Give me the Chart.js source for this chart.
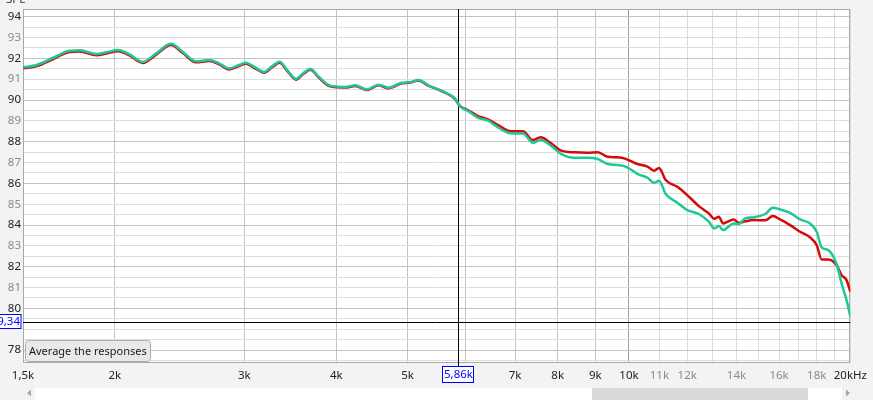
<!DOCTYPE html>
<html><head><meta charset="utf-8">
<script src="https://cdn.jsdelivr.net/npm/chart.js@4/dist/chart.umd.min.js"></script>
<style>html,body{margin:0;padding:0;background:#f3f3f3;}canvas{display:block;}</style>
</head><body>
<canvas id="c" width="873" height="400"></canvas>
<script>
// Frequencies (Hz)
const freqs = [1500,1566,1649,1736,1792,1887,1947,2019,2094,2182,2276,2384,2472,2578,2687,2772,2860,2950,3013,3092,3190,3273,3350,3430,3528,3613,3689,3786,3906,4030,4115,4245,4402,4565,4710,4909,5039,5171,5335,5504,5678,5798,5889,6044,6235,6433,6637,6847,6991,7175,7402,7582,7837,8085,8430,8787,9066,9353,9649,9853,10165,10270,10596,10819,10989,11218,11635,12000,12445,12839,13065,13246,13424,13880,14098,14391,14773,15317,15689,16050,16559,17084,17624,17996,18279,18664,19153,19455,19761,20000];
// Teal response (dB SPL)
const tealSeries = [91.57,91.68,92.03,92.37,92.39,92.21,92.29,92.40,92.19,91.83,92.24,92.70,92.32,91.86,91.92,91.76,91.52,91.68,91.79,91.60,91.35,91.63,91.84,91.44,91.02,91.31,91.49,91.12,90.72,90.64,90.63,90.71,90.51,90.74,90.59,90.83,90.86,90.96,90.71,90.51,90.29,90.08,89.71,89.47,89.15,89.01,88.69,88.43,88.40,88.40,87.95,88.08,87.81,87.41,87.23,87.23,87.17,86.93,86.88,86.83,86.56,86.45,86.27,86.03,86.13,85.49,85.07,84.72,84.53,84.16,83.84,83.95,83.76,84.08,84.05,84.32,84.37,84.53,84.83,84.75,84.59,84.27,84.08,83.68,82.93,82.80,82.13,81.20,80.40,79.60];
// Red response (dB SPL)
const redSeries = [91.52,91.63,91.97,92.31,92.33,92.15,92.23,92.34,92.14,91.78,92.18,92.64,92.27,91.81,91.87,91.71,91.47,91.63,91.74,91.55,91.31,91.58,91.79,91.40,90.98,91.27,91.45,91.08,90.68,90.61,90.60,90.68,90.48,90.71,90.56,90.80,90.84,90.94,90.69,90.50,90.28,90.06,89.72,89.51,89.23,89.07,88.80,88.53,88.50,88.50,88.08,88.21,87.92,87.57,87.49,87.47,87.50,87.28,87.25,87.20,86.99,86.93,86.80,86.61,86.74,86.16,85.84,85.44,84.91,84.56,84.30,84.40,84.08,84.27,84.11,84.18,84.24,84.23,84.43,84.27,84.00,83.68,83.41,83.04,82.35,82.35,82.08,81.60,81.36,80.80];

const xTickValues = [1500,2000,3000,4000,5000,6000,7000,8000,9000,10000,11000,12000,13000,14000,15000,16000,17000,18000,19000,20000];
const xTickLabels = ['1,5k','2k','3k','4k','5k','','7k','8k','9k','10k','11k','12k','','14k','','16k','','18k','','20kHz'];
const xMutedLabels = ['11k','12k','14k','16k','18k'];
const yLabelValues = [78,80,81,82,83,84,85,86,87,88,89,90,91,92,93,94];
const cursorFreq = 5860, cursorFreqLabel = '5,86k';
const cursorLevel = 79.34, cursorLevelLabel = '79,34';
const yAxisTitle = 'SPL';
const buttonText = 'Average the responses';

const yGridValues = [];
for (let v = 77.5; v <= 94.001; v += 0.5) yGridValues.push(Math.round(v*2)/2);

const FONT = 'Noto Sans';

const decor = {
  id: 'decor',
  beforeDraw(chart) {
    const {ctx, chartArea: a} = chart;
    ctx.save();
    ctx.fillStyle = '#f3f3f3';
    ctx.fillRect(0, 0, chart.width, chart.height);
    ctx.fillStyle = '#ffffff';
    ctx.fillRect(a.left, a.top, a.right - a.left, a.bottom - a.top);
    ctx.restore();
  },
  beforeDatasetsDraw(chart) {
    const {ctx, chartArea: a, scales} = chart;
    ctx.save();
    ctx.strokeStyle = '#a8a8a8';
    ctx.lineWidth = 1;
    ctx.strokeRect(Math.round(a.left) + 0.5, Math.round(a.top) + 0.5, Math.round(a.right - a.left) - 1, Math.round(a.bottom - a.top) - 1);
    const cx = Math.round(scales.x.getPixelForValue(cursorFreq)) + 0.5;
    const cy = Math.round(scales.y.getPixelForValue(cursorLevel)) + 0.5;
    ctx.strokeStyle = '#000';
    ctx.beginPath();
    ctx.moveTo(cx, a.top); ctx.lineTo(cx, 366);
    ctx.moveTo(a.left, cy); ctx.lineTo(a.right, cy);
    ctx.stroke();
    ctx.restore();
  },
  afterDraw(chart) {
    const {ctx, scales} = chart;
    ctx.save();
    const cx = Math.round(scales.x.getPixelForValue(cursorFreq));
    const cy = Math.round(scales.y.getPixelForValue(cursorLevel));
    ctx.fillStyle = '#ffffff';
    ctx.fillRect(cx - 16, 366, 32, 17);
    ctx.strokeStyle = '#0000ff';
    ctx.lineWidth = 1;
    ctx.strokeRect(cx - 15.5, 366.5, 31, 16);
    ctx.fillStyle = '#0000ff';
    ctx.font = '11.5px "' + FONT + '"';
    ctx.textAlign = 'center'; ctx.textBaseline = 'middle';
    ctx.fillText(cursorFreqLabel, cx + 0.5, 375);
    ctx.fillStyle = '#ffffff';
    ctx.fillRect(-2, cy - 8, 23, 15);
    ctx.strokeStyle = '#0000ff';
    ctx.strokeRect(-1.5, cy - 7.5, 22.5, 14);
    ctx.fillStyle = '#0000ff';
    ctx.textAlign = 'right';
    ctx.fillText(cursorLevelLabel, 20, cy);
    ctx.fillStyle = '#333';
    ctx.textAlign = 'left'; ctx.textBaseline = 'alphabetic';
    ctx.fillText(yAxisTitle, 6, 3);
    ctx.beginPath();
    const bx = 25.5, by = 340.5, bw = 125, bh = 21, r = 3;
    ctx.moveTo(bx + r, by);
    ctx.arcTo(bx + bw, by, bx + bw, by + bh, r);
    ctx.arcTo(bx + bw, by + bh, bx, by + bh, r);
    ctx.arcTo(bx, by + bh, bx, by, r);
    ctx.arcTo(bx, by, bx + bw, by, r);
    ctx.closePath();
    ctx.fillStyle = '#e9e9e9';
    ctx.fill();
    ctx.strokeStyle = '#adadad';
    ctx.stroke();
    ctx.fillStyle = '#1a1a1a';
    ctx.textBaseline = 'middle';
    ctx.font = '11px "' + FONT + '"';
    ctx.fillText(buttonText, 29, 352);
    ctx.fillStyle = '#ffffff';
    ctx.fillRect(35, 388, 807, 12);
    ctx.fillStyle = '#d9d9d9';
    ctx.fillRect(592, 388, 216, 12);
    ctx.fillStyle = '#a6a6a6';
    ctx.beginPath(); ctx.moveTo(27, 393); ctx.lineTo(31, 389.5); ctx.lineTo(31, 396.5); ctx.closePath(); ctx.fill();
    ctx.beginPath(); ctx.moveTo(850, 393); ctx.lineTo(846, 389.5); ctx.lineTo(846, 396.5); ctx.closePath(); ctx.fill();
    ctx.restore();
  }
};

new Chart(document.getElementById('c'), {
  type: 'line',
  data: {
    datasets: [
      { label: 'teal', data: freqs.map((f, i) => ({x: f, y: tealSeries[i]})), borderColor: '#1ec896', borderWidth: 2.5, pointRadius: 0, cubicInterpolationMode: 'monotone', fill: false },
      { label: 'red', data: freqs.map((f, i) => ({x: f, y: redSeries[i]})), borderColor: '#d40b0b', borderWidth: 2.5, pointRadius: 0, cubicInterpolationMode: 'monotone', fill: false }
    ]
  },
  options: {
    responsive: false,
    animation: false,
    events: [],
    layout: { padding: { top: 9, right: 19, bottom: 0, left: 0 } },
    plugins: { legend: { display: false }, tooltip: { enabled: false } },
    scales: {
      x: {
        type: 'logarithmic', min: 1500, max: 20000,
        afterBuildTicks: s => { s.ticks = xTickValues.map(v => ({value: v})); },
        afterFit: s => { s.height = 37; },
        border: { display: false },
        grid: {
          drawTicks: false,
          color: c => { const v = c.tick && c.tick.value; if (v === 10000) return '#9c9c9c'; if (v > 10000) return '#dcdcdc'; return '#c4c4c4'; }
        },
        ticks: {
          autoSkip: false, maxRotation: 0, minRotation: 0, padding: 6,
          font: { family: FONT, size: 11.5 },
          color: c => xMutedLabels.includes(xTickLabels[xTickValues.indexOf(c.tick.value)]) ? '#8a8a8a' : '#222',
          callback: (v) => { const i = xTickValues.indexOf(v); return i >= 0 ? xTickLabels[i] : ''; }
        }
      },
      y: {
        type: 'linear', min: 77.38, max: 94.37,
        afterBuildTicks: s => { s.ticks = yGridValues.map(v => ({value: v})); },
        afterFit: s => { s.width = 23; },
        border: { display: false },
        grid: {
          drawTicks: false,
          color: c => { const v = c.tick && c.tick.value; return (Number.isInteger(v) && v % 2 === 0) ? '#c4c4c4' : '#dedede'; }
        },
        ticks: {
          autoSkip: false, padding: 2,
          font: { family: FONT, size: 11.5 },
          color: c => (c.tick.value % 2 === 0) ? '#222' : '#8a8a8a',
          callback: v => yLabelValues.includes(v) ? String(v) : ''
        }
      }
    }
  },
  plugins: [decor]
});
</script>
</body></html>
